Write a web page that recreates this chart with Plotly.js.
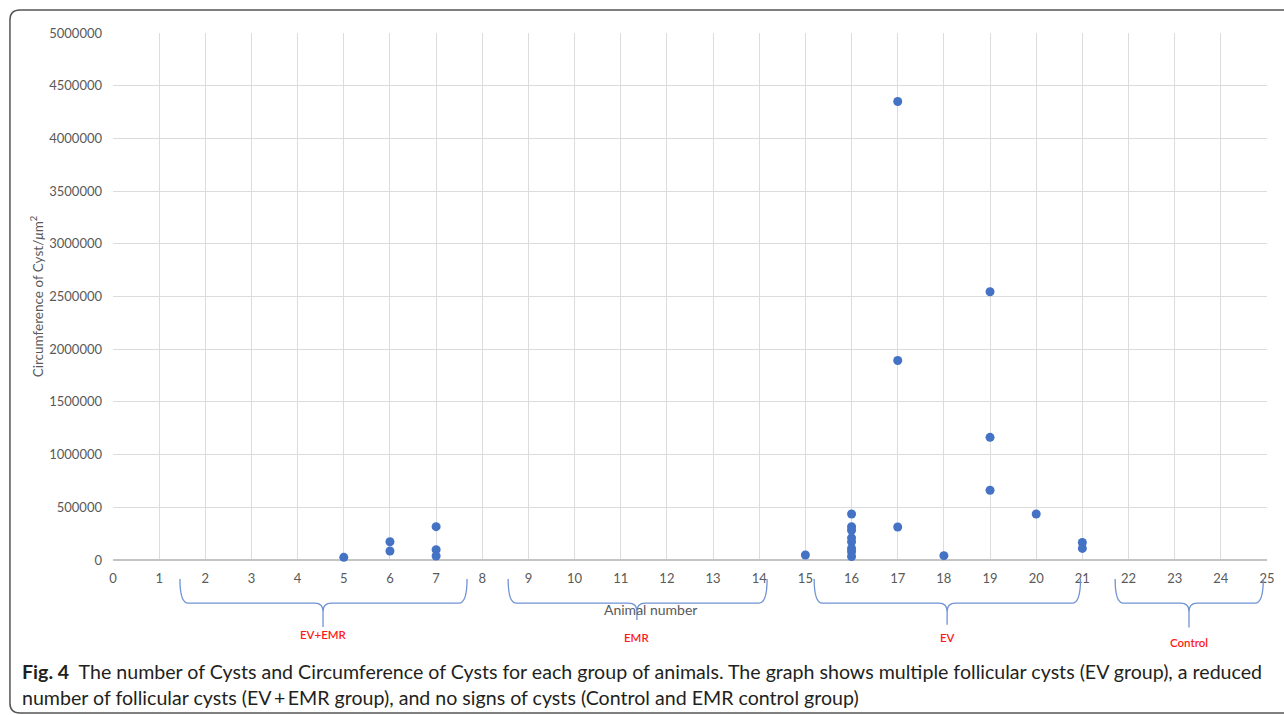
<!DOCTYPE html>
<html>
<head>
<meta charset="utf-8">
<script src="https://cdn.plot.ly/plotly-3.0.1.min.js"></script>
<style>
html,body{margin:0;padding:0;background:#fff;}
#chart{width:1284px;height:715px;}
</style>
</head>
<body>
<div id="chart"></div>
<script>
// Animal number for each cyst measured
const animalNumber = [5, 6, 6, 7, 7, 7, 15, 16, 16, 16, 16, 16, 16, 16, 16, 17, 17, 17, 18, 19, 19, 19, 20, 21, 21];
// Circumference of cyst (µm²)
const circumference = [25000, 173000, 85000, 316000, 98000, 38000, 47000, 436000, 316000, 282000, 210000, 172000, 110000, 80000, 33000, 4350000, 1893000, 313000, 41000, 2545000, 1164000, 662000, 436000, 166000, 110000];

const xTicks = [0,1,2,3,4,5,6,7,8,9,10,11,12,13,14,15,16,17,18,19,20,21,22,23,24,25];
const yTicks = [0,500000,1000000,1500000,2000000,2500000,3000000,3500000,4000000,4500000,5000000];

// Group brackets under the x axis
const groupNames = ['EV+EMR', 'EMR', 'EV', 'Control'];
const groupStart = [1.45, 8.56, 15.19, 21.71];
const groupEnd   = [7.67, 14.17, 20.96, 24.92];
const groupMid   = [4.55, 11.35, 18.07, 23.31];

const captionLine1 = '<b>Fig. 4</b>  The number of Cysts and Circumference of Cysts for each group of animals. The graph shows multiple follicular cysts (EV group), a reduced';
const captionLine2 = 'number of follicular cysts (EV\u2009+\u2009EMR group), and no signs of cysts (Control and EMR control group)';

const font = 'Lato, "Open Sans", sans-serif';
const grey = '#595959';

// geometry of brackets (paper y)
const yTopB = -0.036, yMidB = -0.082, yNeck = -0.098;
const labelY = [-0.142, -0.148, -0.148, -0.157];
const tipY = [-0.127, -0.114, -0.123, -0.128];

function bracePath(xl, xc, xr, yb) {
  const d = 0.18;
  return `M ${xl},${yTopB} Q ${xl},${yMidB} ${xl + d},${yMidB} L ${xc - d},${yMidB} Q ${xc},${yMidB} ${xc},${yNeck} L ${xc},${yb} ` +
         `M ${xc},${yNeck} Q ${xc},${yMidB} ${xc + d},${yMidB} L ${xr - d},${yMidB} Q ${xr},${yMidB} ${xr},${yTopB}`;
}

const shapes = groupNames.map((g, i) => ({
  type: 'path', xref: 'x', yref: 'paper',
  path: bracePath(groupStart[i], groupMid[i], groupEnd[i], tipY[i]),
  line: {color: '#6f93d3', width: 1.3}
}));

// outer rounded frame
const fx0 = -0.0893, fy0 = 1.0436, fy1 = -0.2903, fx1 = 1.02, rx = 0.0087, ry = 0.019;
shapes.push({
  type: 'path', xref: 'paper', yref: 'paper',
  path: `M ${fx1},${fy0} L ${fx0 + rx},${fy0} Q ${fx0},${fy0} ${fx0},${fy0 - ry} L ${fx0},${fy1 + ry} Q ${fx0},${fy1} ${fx0 + rx},${fy1} L ${fx1},${fy1}`,
  line: {color: '#555555', width: 1.5}
});

const annotations = groupNames.map((g, i) => ({
  text: g, xref: 'x', yref: 'paper', x: groupMid[i], y: labelY[i],
  showarrow: false, xanchor: 'center', yanchor: 'middle',
  font: {family: font, size: 11.5, color: '#ff1a1a', weight: 600}
}));

annotations.push({
  text: 'Animal number', xref: 'paper', yref: 'paper', x: (650 - 113) / 1154, y: -0.093,
  showarrow: false, xanchor: 'center', yanchor: 'middle',
  font: {family: font, size: 14, color: grey}
});
annotations.push({
  text: captionLine1, xref: 'paper', yref: 'paper', x: (20 - 113) / 1154, y: -0.2125,
  showarrow: false, xanchor: 'left', yanchor: 'middle', align: 'left',
  font: {family: font, size: 19.6, color: '#231f20'}
});
annotations.push({
  text: captionLine2, xref: 'paper', yref: 'paper', x: (20 - 113) / 1154, y: -0.26,
  showarrow: false, xanchor: 'left', yanchor: 'middle', align: 'left',
  font: {family: font, size: 19.6, color: '#231f20'}
});

const trace = {
  type: 'scatter', mode: 'markers',
  x: animalNumber, y: circumference,
  marker: {color: '#4472C4', size: 9},
  cliponaxis: false,
  hoverinfo: 'x+y'
};

const layout = {
  width: 1284, height: 715,
  margin: {l: 113, r: 17, t: 33, b: 155},
  paper_bgcolor: '#ffffff', plot_bgcolor: '#ffffff',
  showlegend: false,
  font: {family: font, color: grey},
  xaxis: {
    range: [0, 25], tickvals: xTicks, ticktext: xTicks.map(String),
    showgrid: true, gridcolor: '#dcdcdc', gridwidth: 1,
    zeroline: false, showline: false,
    tickfont: {family: font, size: 13, color: grey},
    ticks: '', ticklen: 0, ticklabelstandoff: 9
  },
  yaxis: {
    range: [0, 5000000], tickvals: yTicks, ticktext: yTicks.map(String),
    showgrid: true, gridcolor: '#dcdcdc', gridwidth: 1,
    zeroline: true, zerolinecolor: '#c4c4c4', zerolinewidth: 1.2,
    showline: false,
    tickfont: {family: font, size: 13, color: grey},
    ticks: '', ticklabelstandoff: 10,
    title: {text: 'Circumference of Cyst/<i>\u03bc</i>m<sup>2</sup>', font: {family: font, size: 13.5, color: grey}, standoff: 2}
  },
  shapes: shapes,
  annotations: annotations
};

Plotly.newPlot('chart', [trace], layout, {displayModeBar: false, staticPlot: true});
</script>
</body>
</html>
